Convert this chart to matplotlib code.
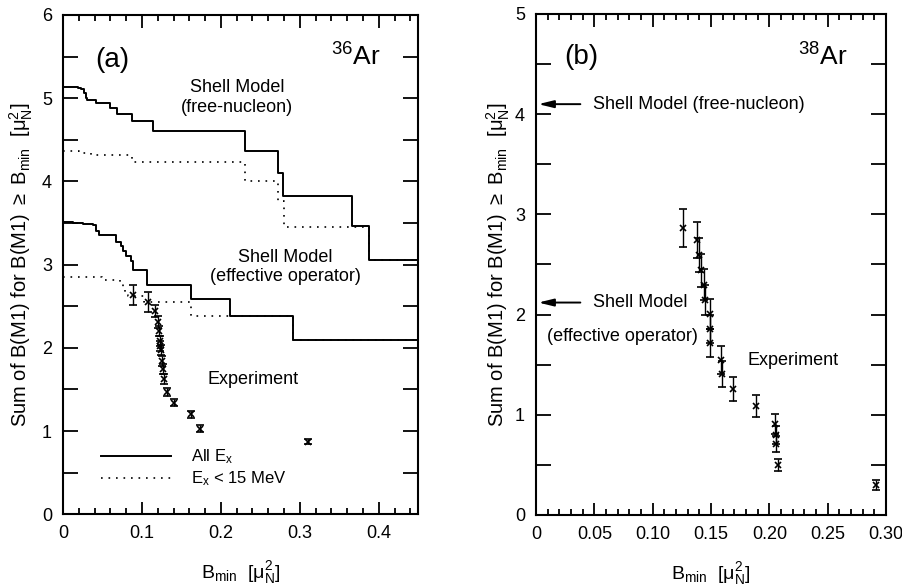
import matplotlib
matplotlib.use("Agg")
import matplotlib.pyplot as plt
from matplotlib.ticker import MultipleLocator, FixedLocator, FixedFormatter

plt.rcParams['font.family'] = ['Liberation Sans', 'DejaVu Sans']
plt.rcParams['mathtext.fontset'] = 'custom'
plt.rcParams['mathtext.rm'] = 'Liberation Sans'
plt.rcParams['mathtext.it'] = 'Liberation Sans:italic'
plt.rcParams['mathtext.bf'] = 'Liberation Sans:bold'

# ---------------- Panel (a): 36Ar ----------------
free_all_x = [0, 0.019, 0.023, 0.026, 0.029, 0.031, 0.042, 0.059, 0.069, 0.087, 0.114, 0.230, 0.273, 0.279, 0.366, 0.388]
free_all_y = [5.14, 5.12, 5.11, 5.06, 5.00, 4.98, 4.94, 4.88, 4.81, 4.72, 4.61, 4.37, 4.10, 3.82, 3.46, 3.06]
free_low_x = [0, 0.020, 0.035, 0.088, 0.230, 0.273, 0.280, 0.388]
free_low_y = [4.37, 4.34, 4.32, 4.23, 4.00, 3.76, 3.45, 3.06]
eff_all_x = [0, 0.012, 0.025, 0.038, 0.042, 0.045, 0.067, 0.073, 0.076, 0.080, 0.086, 0.089, 0.107, 0.162, 0.211, 0.292]
eff_all_y = [3.51, 3.50, 3.49, 3.47, 3.40, 3.35, 3.27, 3.22, 3.16, 3.10, 3.04, 2.94, 2.75, 2.59, 2.38, 2.09]
eff_low_x = [0, 0.050, 0.072, 0.076, 0.079, 0.082, 0.103, 0.162, 0.292]
eff_low_y = [2.85, 2.81, 2.77, 2.72, 2.67, 2.62, 2.55, 2.38, 2.09]

exp_a_x = [0.0886, 0.1076, 0.117, 0.120, 0.1215, 0.123, 0.1235, 0.124, 0.125, 0.1266, 0.1274, 0.132, 0.1405, 0.162, 0.173, 0.310]
exp_a_y = [2.64, 2.55, 2.44, 2.31, 2.20, 2.08, 2.02, 1.97, 1.84, 1.74, 1.62, 1.47, 1.34, 1.20, 1.03, 0.87]
exp_a_err = [0.12, 0.12, 0.07, 0.07, 0.06, 0.06, 0.06, 0.06, 0.06, 0.06, 0.06, 0.05, 0.04, 0.04, 0.04, 0.03]

# ---------------- Panel (b): 38Ar ----------------
exp_b_x = [0.1264, 0.1379, 0.1393, 0.1413, 0.1436, 0.1445, 0.1487, 0.1493, 0.1493, 0.1587, 0.1590, 0.1687, 0.1887, 0.2050, 0.2055, 0.2058, 0.2078, 0.2916]
exp_b_y = [2.86, 2.74, 2.59, 2.44, 2.30, 2.15, 2.01, 1.86, 1.72, 1.55, 1.41, 1.26, 1.09, 0.91, 0.80, 0.71, 0.50, 0.30]
exp_b_err = [0.19, 0.18, 0.17, 0.16, 0.15, 0.15, 0.15, 0.14, 0.14, 0.14, 0.13, 0.12, 0.11, 0.10, 0.09, 0.08, 0.06, 0.05]
sm_b_free = 4.10
sm_b_eff = 2.12

xlim_a = (0, 0.45)
ylim_a = (0, 6)
xlim_b = (0, 0.30)
ylim_b = (0, 5)

fig = plt.figure(figsize=(9.03, 5.87), dpi=100)
axa = fig.add_axes([0.0698, 0.1240, 0.3933, 0.8505])
axb = fig.add_axes([0.5936, 0.1227, 0.3876, 0.8535])

ylab = r'Sum of B(M1) for B(M1) $\geq$ B$_{\rm min}$  [μ$_{\rm N}^{2}$]'
xlab = r'B$_{\rm min}$  [μ$_{\rm N}^{2}$]'

def style(ax):
    for s in ax.spines.values():
        s.set_linewidth(1.5)
    ax.tick_params(which='both', direction='in', top=True, right=True,
                   labelsize=13, width=1.3, pad=8)
    ax.tick_params(axis='x', which='major', length=9)
    ax.tick_params(axis='x', which='minor', length=4.5)
    ax.tick_params(axis='y', which='both', length=10.5)

def step(ax, xs, ys, xend, **kw):
    return ax.step(list(xs) + [xend], list(ys) + [ys[-1]], where='post', color='black', **kw)[0]

# Panel (a)
la = step(axa, free_all_x, free_all_y, xlim_a[1], lw=1.4)
ld = step(axa, free_low_x, free_low_y, xlim_a[1], lw=1.2, linestyle=(0, (1, 3.5)))
step(axa, eff_all_x, eff_all_y, xlim_a[1], lw=1.4)
step(axa, eff_low_x, eff_low_y, xlim_a[1], lw=1.2, linestyle=(0, (1, 3.5)))
axa.errorbar(exp_a_x, exp_a_y, yerr=exp_a_err, fmt='x', color='black', ms=4, mew=1.2,
             elinewidth=1.0, capsize=3, capthick=1.0)
axa.set_xlim(*xlim_a)
axa.set_ylim(*ylim_a)
axa.xaxis.set_major_locator(FixedLocator([0, 0.1, 0.2, 0.3, 0.4]))
axa.xaxis.set_major_formatter(FixedFormatter(['0', '0.1', '0.2', '0.3', '0.4']))
axa.xaxis.set_minor_locator(MultipleLocator(0.02))
axa.yaxis.set_major_locator(MultipleLocator(1))
axa.yaxis.set_minor_locator(MultipleLocator(0.5))
style(axa)
axa.set_ylabel(ylab, fontsize=14.5, labelpad=5)
axa.set_xlabel(xlab, fontsize=14, labelpad=12)
axa.text(0.14, 0.91, '(a)', transform=axa.transAxes, fontsize=20, ha='center', va='center')
axa.text(0.893, 0.915, r'$^{36}$Ar', transform=axa.transAxes, fontsize=19, ha='right', va='center')
axa.text(0.49, 0.835, 'Shell Model\n(free-nucleon)', transform=axa.transAxes, fontsize=13,
         ha='center', va='center', linespacing=1.2)
axa.text(0.625, 0.495, 'Shell Model\n(effective operator)', transform=axa.transAxes, fontsize=13,
         ha='center', va='center', linespacing=1.2)
axa.text(0.535, 0.27, 'Experiment', transform=axa.transAxes, fontsize=13, ha='center', va='center')
axa.legend([la, ld], [r'All E$_{\rm x}$', r'E$_{\rm x}$ < 15 MeV'], loc='lower left',
           bbox_to_anchor=(0.065, 0.022), frameon=False, fontsize=12, handlelength=4.2,
           handletextpad=1.2, labelspacing=0.2)

# Panel (b)
axb.errorbar(exp_b_x, exp_b_y, yerr=exp_b_err, fmt='x', color='black', ms=4, mew=1.2,
             elinewidth=1.0, capsize=3, capthick=1.0)
axb.set_xlim(*xlim_b)
axb.set_ylim(*ylim_b)
axb.xaxis.set_major_locator(FixedLocator([0, 0.05, 0.10, 0.15, 0.20, 0.25, 0.30]))
axb.xaxis.set_major_formatter(FixedFormatter(['0', '0.05', '0.10', '0.15', '0.20', '0.25', '0.30']))
axb.xaxis.set_minor_locator(MultipleLocator(0.01))
axb.yaxis.set_major_locator(MultipleLocator(1))
axb.yaxis.set_minor_locator(MultipleLocator(0.5))
style(axb)
axb.set_ylabel(ylab, fontsize=14.5, labelpad=2)
axb.set_xlabel(xlab, fontsize=14, labelpad=12)
axb.text(0.13, 0.915, '(b)', transform=axb.transAxes, fontsize=20, ha='center', va='center')
axb.text(0.89, 0.915, r'$^{38}$Ar', transform=axb.transAxes, fontsize=19, ha='right', va='center')
arrow = dict(arrowstyle='-|>,head_length=0.9,head_width=0.22', color='black', lw=1.4,
             shrinkA=0, shrinkB=0)
axb.annotate('', xy=(0.002, sm_b_free), xytext=(0.038, sm_b_free), arrowprops=arrow)
axb.annotate('', xy=(0.002, sm_b_eff), xytext=(0.038, sm_b_eff), arrowprops=arrow)
axb.text(0.049, sm_b_free, 'Shell Model (free-nucleon)', fontsize=13, ha='left', va='center')
axb.text(0.049, sm_b_eff, 'Shell Model', fontsize=13, ha='left', va='center')
axb.text(0.0095, 1.78, '(effective operator)', fontsize=13, ha='left', va='center')
axb.text(0.181, 1.54, 'Experiment', fontsize=13, ha='left', va='center')

fig.savefig('out.png', dpi=100)
